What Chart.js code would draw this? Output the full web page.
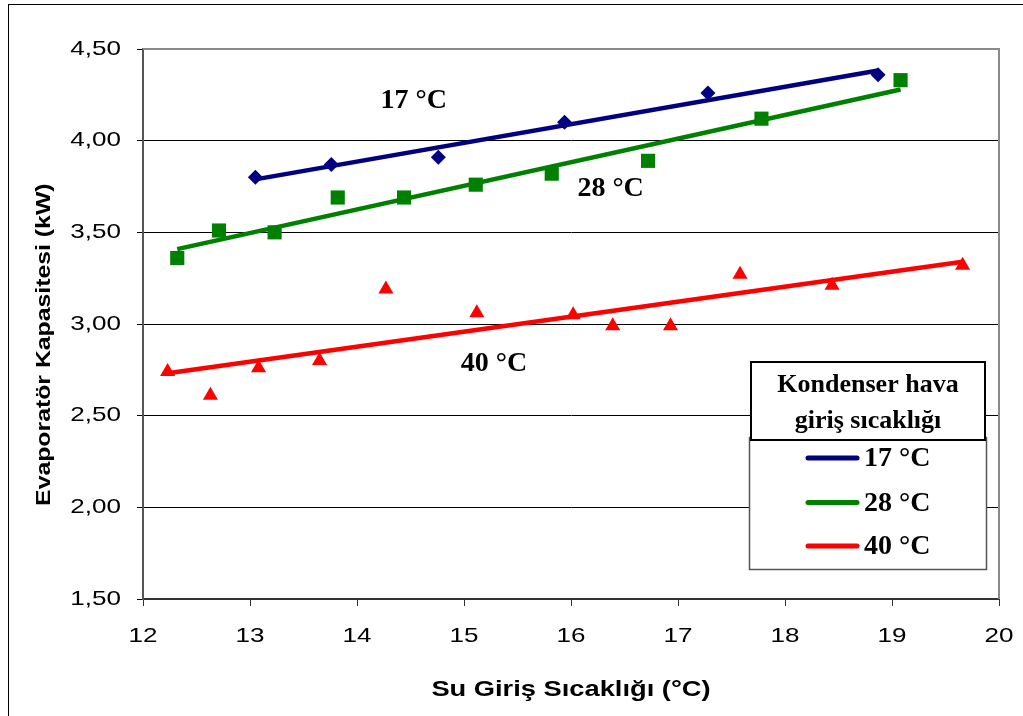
<!DOCTYPE html>
<html>
<head>
<meta charset="utf-8">
<script src="https://cdn.jsdelivr.net/npm/chart.js@4.4.1/dist/chart.umd.min.js"></script>
<style>
  html, body { margin: 0; padding: 0; background: #fff; overflow: hidden; }
  canvas { display: block; }
</style>
</head>
<body>
<canvas id="chart" width="1023" height="716"></canvas>
<script>
// Evaporator capacity vs. water inlet temperature, for three condenser air inlet temperatures
const seriesLabels = ['17 °C', '28 °C', '40 °C'];
const seriesColors = ['#000080', '#008000', '#FF0000'];

const water17 = [13.05, 13.76, 14.76, 15.94, 17.28, 18.87];
const cap17   = [3.80, 3.87, 3.91, 4.10, 4.26, 4.36];

const water28 = [12.32, 12.71, 13.23, 13.82, 14.44, 15.11, 15.82, 16.72, 17.78, 19.08];
const cap28   = [3.36, 3.51, 3.50, 3.69, 3.69, 3.76, 3.82, 3.89, 4.12, 4.33];

const water40 = [12.23, 12.63, 13.08, 13.65, 14.27, 15.12, 16.02, 16.39, 16.93, 17.58, 18.44, 19.66];
const cap40   = [2.74, 2.61, 2.76, 2.80, 3.19, 3.06, 3.05, 2.99, 2.99, 3.27, 3.21, 3.32];

const xTicks = [12, 13, 14, 15, 16, 17, 18, 19, 20];
const yTicks = [1.5, 2.0, 2.5, 3.0, 3.5, 4.0, 4.5];

// Curve labels placed in data coordinates
const curveLabelX = [14.53, 16.37, 15.28];
const curveLabelY = [4.216, 3.736, 2.785];

const legendTitle = ['Kondenser hava', 'giriş sıcaklığı'];
const xTitle = 'Su Giriş Sıcaklığı (°C)';
const yTitle = 'Evaporatör Kapasitesi (kW)';

const SANS = 'Liberation Sans';
const SERIF = '"Liberation Serif", "Times New Roman", serif';
const SANS_STRETCH = 1.24;

function toPoints(xs, ys) {
  return xs.map((x, i) => ({ x: x, y: ys[i] }));
}

// Least-squares linear trendline spanning the series' x range
function trendline(xs, ys) {
  const n = xs.length;
  const mx = xs.reduce((a, b) => a + b, 0) / n;
  const my = ys.reduce((a, b) => a + b, 0) / n;
  let sxy = 0, sxx = 0;
  for (let i = 0; i < n; i++) {
    sxy += (xs[i] - mx) * (ys[i] - my);
    sxx += (xs[i] - mx) * (xs[i] - mx);
  }
  const slope = sxy / sxx;
  const x0 = Math.min(...xs), x1 = Math.max(...xs);
  return [
    { x: x0, y: my + slope * (x0 - mx) },
    { x: x1, y: my + slope * (x1 - mx) }
  ];
}

const canvas = document.getElementById('chart');
const ctx = canvas.getContext('2d');

// Sans-serif text on this chart uses a wide face: draw it horizontally expanded.
const nativeFillText = CanvasRenderingContext2D.prototype.fillText;
ctx.fillText = function (text, x, y, maxWidth) {
  if (this.font.indexOf(SANS) !== -1) {
    this.save();
    this.translate(x, y);
    this.scale(SANS_STRETCH, 1);
    nativeFillText.call(this, text, 0, 0);
    this.restore();
  } else if (maxWidth === undefined) {
    nativeFillText.call(this, text, x, y);
  } else {
    nativeFillText.call(this, text, x, y, maxWidth);
  }
};

const markerStyles = [
  { pointStyle: 'rectRot', radius: 7.5 },
  { pointStyle: 'rect', radius: 10 },
  { pointStyle: 'triangle', radius: 8.7 }
];

const seriesX = [water17, water28, water40];
const seriesY = [cap17, cap28, cap40];

const datasets = [];
seriesX.forEach((xs, i) => {
  datasets.push({
    label: seriesLabels[i] + ' trend',
    data: trendline(xs, seriesY[i]),
    showLine: true,
    borderColor: seriesColors[i],
    borderWidth: 4.5,
    pointRadius: 0,
    pointHoverRadius: 0,
    fill: false,
    order: 2
  });
  datasets.push({
    label: seriesLabels[i],
    data: toPoints(xs, seriesY[i]),
    showLine: false,
    pointStyle: markerStyles[i].pointStyle,
    pointRadius: markerStyles[i].radius,
    pointHoverRadius: markerStyles[i].radius,
    backgroundColor: seriesColors[i],
    borderColor: seriesColors[i],
    borderWidth: 0,
    order: 1
  });
});

// Gray frame on the top and right of the plot area, plus the outer chart border
const framePlugin = {
  id: 'frame',
  beforeDatasetsDraw(chart) {
    const { left, right, top, bottom } = chart.chartArea;
    const c = chart.ctx;
    c.save();
    c.strokeStyle = '#8a8a8a';
    c.lineWidth = 2;
    c.beginPath();
    c.moveTo(left, top);
    c.lineTo(right, top);
    c.lineTo(right, bottom);
    c.stroke();
    c.restore();
  },
  afterDraw(chart) {
    const c = chart.ctx;
    c.save();
    c.strokeStyle = '#000';
    c.lineWidth = 1;
    c.strokeRect(8.5, 4.5, 1100, 800);
    c.restore();
  }
};

// Temperature labels next to each curve
const curveLabelPlugin = {
  id: 'curveLabels',
  afterDatasetsDraw(chart) {
    const c = chart.ctx;
    const xs = chart.scales.x, ys = chart.scales.y;
    c.save();
    c.fillStyle = '#000';
    c.font = 'bold 28px ' + SERIF;
    c.textAlign = 'center';
    c.textBaseline = 'middle';
    seriesLabels.forEach((t, i) => {
      c.fillText(t, xs.getPixelForValue(curveLabelX[i]), ys.getPixelForValue(curveLabelY[i]));
    });
    c.restore();
  }
};

// Legend box with a titled header
const legendPlugin = {
  id: 'boxLegend',
  afterDraw(chart) {
    const c = chart.ctx;
    c.save();
    // item box
    c.fillStyle = '#fff';
    c.fillRect(749, 437, 238, 132);
    c.strokeStyle = '#555';
    c.lineWidth = 1.5;
    c.strokeRect(749.5, 437.5, 237, 132);
    // title box
    c.fillStyle = '#fff';
    c.fillRect(751, 362, 234, 78);
    c.strokeStyle = '#000';
    c.lineWidth = 2;
    c.strokeRect(751, 362, 234, 78);
    c.fillStyle = '#000';
    c.font = 'bold 26px ' + SERIF;
    c.textAlign = 'center';
    c.textBaseline = 'alphabetic';
    c.fillText(legendTitle[0], 868, 392);
    c.fillText(legendTitle[1], 868, 428);
    // items
    const rowY = [458, 502.5, 546];
    c.textAlign = 'left';
    c.textBaseline = 'middle';
    c.font = 'bold 28px ' + SERIF;
    seriesLabels.forEach((t, i) => {
      c.strokeStyle = seriesColors[i];
      c.lineWidth = 5;
      c.lineCap = 'round';
      c.beginPath();
      c.moveTo(808, rowY[i]);
      c.lineTo(857, rowY[i]);
      c.stroke();
      c.fillStyle = '#000';
      c.fillText(t, 864, rowY[i] + 1);
    });
    c.restore();
  }
};

new Chart(ctx, {
  type: 'scatter',
  data: { datasets: datasets },
  options: {
    responsive: false,
    animation: false,
    events: [],
    layout: { padding: { top: 49, right: 24, left: 0, bottom: 0 } },
    plugins: {
      legend: { display: false },
      tooltip: { enabled: false }
    },
    scales: {
      x: {
        type: 'linear',
        min: 12,
        max: 20,
        afterBuildTicks(scale) { scale.ticks = xTicks.map(v => ({ value: v })); },
        afterFit(scale) {
          scale.height = 117;
          scale.paddingLeft = 0;
          scale.paddingRight = 0;
        },
        ticks: {
          color: '#000',
          font: { family: SANS, size: 21 },
          padding: 18,
          maxRotation: 0,
          callback: v => String(v)
        },
        grid: {
          drawOnChartArea: false,
          drawTicks: true,
          tickLength: 7,
          color: '#333',
          lineWidth: 1
        },
        border: { display: true, color: '#333', width: 2 },
        title: {
          display: true,
          text: xTitle,
          color: '#000',
          font: { family: SANS, size: 22, weight: 'bold' },
          padding: { top: 0, bottom: 13 }
        }
      },
      y: {
        type: 'linear',
        min: 1.5,
        max: 4.5,
        afterBuildTicks(scale) { scale.ticks = yTicks.map(v => ({ value: v })); },
        afterFit(scale) { scale.width = 143; },
        ticks: {
          color: '#000',
          font: { family: SANS, size: 21 },
          padding: 16,
          callback: v => v.toFixed(2).replace('.', ',')
        },
        grid: {
          color: '#000',
          lineWidth: 1,
          drawTicks: true,
          tickLength: 6
        },
        border: { display: true, color: '#555', width: 2 },
        title: {
          display: true,
          // trailing spaces set the title slightly below the axis centre
          text: yTitle + '\u00A0'.repeat(6),
          color: '#000',
          font: { family: SANS, size: 20, weight: 'bold' },
          padding: { top: 32, bottom: 0 }
        }
      }
    }
  },
  plugins: [framePlugin, curveLabelPlugin, legendPlugin]
});
</script>
</body>
</html>
